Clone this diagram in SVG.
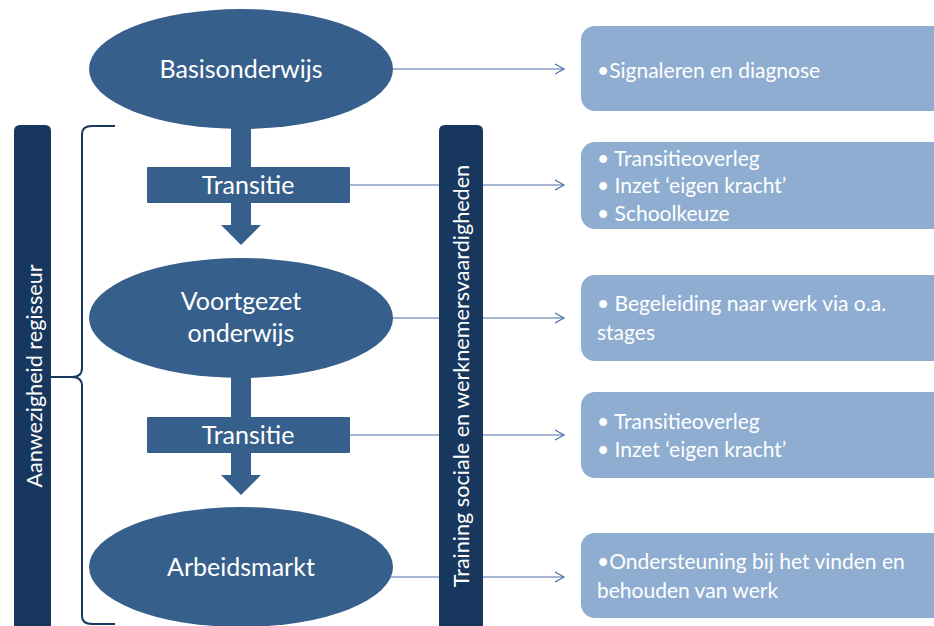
<svg xmlns="http://www.w3.org/2000/svg" width="934" height="626" viewBox="0 0 934 626">
<style>
.node{fill:#375f8c}
.bar{fill:#17375e}
.box{fill:#8eadd0}
.t{font-family:Lato,"Open Sans","Liberation Sans",sans-serif;fill:#fff}
.big{font-size:25px;text-anchor:middle}
.side{font-size:21.6px;text-anchor:middle}
.lst{font-size:21px}
.conn{stroke:#4a6fa5;stroke-width:1.2;fill:none}
</style>
<defs>
<marker id="arr" markerWidth="12" markerHeight="12" refX="10" refY="6" orient="auto" markerUnits="userSpaceOnUse">
<path d="M1,1 L10,6 L1,11" fill="none" stroke="#4a6fa5" stroke-width="1.2"/>
</marker>
</defs>
<rect width="934" height="626" fill="#fff"/>
<g id="connectors">
<line class="conn" x1="393" y1="69" x2="564" y2="69" marker-end="url(#arr)"/>
<line class="conn" x1="350" y1="185" x2="564" y2="185" marker-end="url(#arr)"/>
<line class="conn" x1="392" y1="318" x2="564" y2="318" marker-end="url(#arr)"/>
<line class="conn" x1="350" y1="435" x2="564" y2="435" marker-end="url(#arr)"/>
<line class="conn" x1="390" y1="577" x2="564" y2="577" marker-end="url(#arr)"/>
</g>
<g id="flow-arrow-1">
<path class="node" d="M231,125 H251 V225 H261 L241,245 L221,225 H231 Z"/>
</g>
<g id="flow-arrow-2">
<path class="node" d="M231,375 H251 V475 H261 L241,495 L221,475 H231 Z"/>
</g>
<g id="basisonderwijs">
<ellipse class="node" cx="241" cy="69" rx="152" ry="60"/>
<text class="t big" x="241" y="78">Basisonderwijs</text>
</g>
<g id="transitie-1">
<rect class="node" x="147" y="167" width="203" height="36" rx="1"/>
<text class="t big" x="248" y="194">Transitie</text>
</g>
<g id="voortgezet">
<ellipse class="node" cx="241" cy="318" rx="152" ry="60"/>
<text class="t big" x="241" y="310">Voortgezet</text>
<text class="t big" x="241" y="342">onderwijs</text>
</g>
<g id="transitie-2">
<rect class="node" x="147" y="417" width="203" height="36" rx="1"/>
<text class="t big" x="248" y="444">Transitie</text>
</g>
<g id="arbeidsmarkt">
<ellipse class="node" cx="241" cy="567" rx="152" ry="60"/>
<text class="t big" x="241" y="576">Arbeidsmarkt</text>
</g>
<g id="regisseur">
<path class="bar" d="M14,131 Q14,125 20,125 H45 Q51,125 51,131 V626 H14 Z"/>
<text class="t side" transform="translate(42,376) rotate(-90)">Aanwezigheid regisseur</text>
</g>
<g id="brace">
<path d="M115,126 H92 Q82,126 82,134 V368 Q82,377 72,377 H51 M72,377 Q82,377 82,386 V616 Q82,624 92,624 H115" fill="none" stroke="#17375e" stroke-width="2"/>
</g>
<g id="training">
<path class="bar" d="M439,131 Q439,125 445,125 H477 Q483,125 483,131 V626 H439 Z"/>
<text class="t side" transform="translate(469,376) rotate(-90)">Training sociale en werknemersvaardigheden</text>
</g>
<g id="box-1">
<rect class="box" x="581" y="26" width="370" height="85" rx="14"/>
<text class="t lst" x="597" y="78">•Signaleren en diagnose</text>
</g>
<g id="box-2">
<rect class="box" x="581" y="142" width="370" height="87" rx="14"/>
<text class="t lst" x="597" y="166">• Transitieoverleg</text>
<text class="t lst" x="597" y="193">• Inzet ‘eigen kracht’</text>
<text class="t lst" x="597" y="221">• Schoolkeuze</text>
</g>
<g id="box-3">
<rect class="box" x="581" y="275" width="370" height="86" rx="14"/>
<text class="t lst" x="597" y="311">• Begeleiding  naar werk via o.a.</text>
<text class="t lst" x="597" y="340">stages</text>
</g>
<g id="box-4">
<rect class="box" x="581" y="392" width="370" height="86" rx="14"/>
<text class="t lst" x="597" y="429">• Transitieoverleg</text>
<text class="t lst" x="597" y="457">• Inzet ‘eigen kracht’</text>
</g>
<g id="box-5">
<rect class="box" x="581" y="533" width="370" height="85" rx="14"/>
<text class="t lst" x="597" y="569">•Ondersteuning bij het vinden en</text>
<text class="t lst" x="597" y="598">behouden van werk</text>
</g>
</svg>
